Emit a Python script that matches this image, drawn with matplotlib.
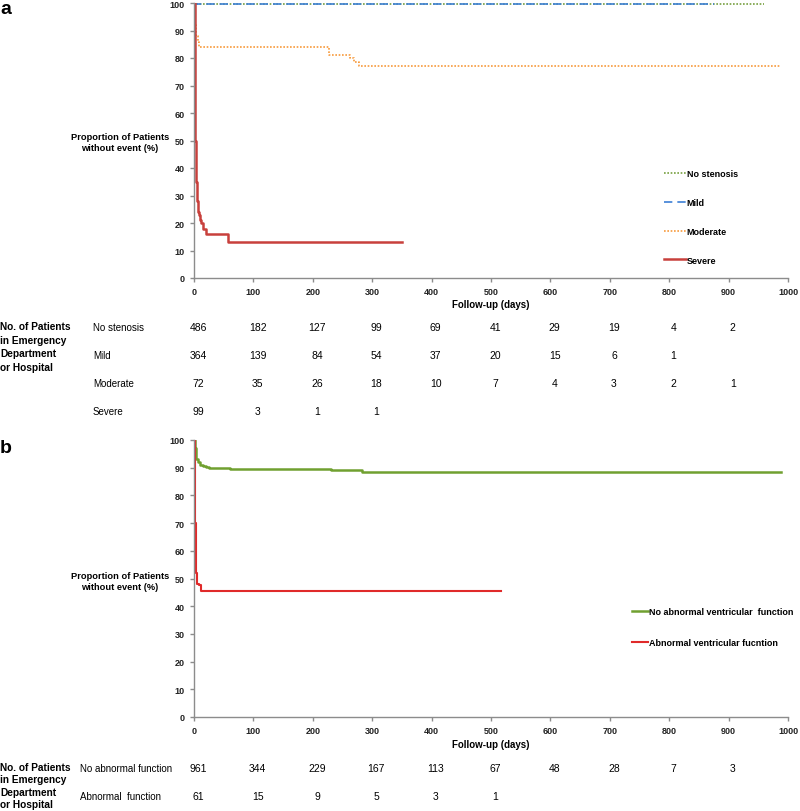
import matplotlib.pyplot as plt
import matplotlib.transforms as mtransforms

# panel a - stenosis groups (Kaplan-Meier, step curves)
days_none = [0, 2, 960]
surv_none = [100, 99.6, 99.6]
days_mild = [0, 1, 875]
surv_mild = [100, 99.6, 99.6]
days_mod = [0, 2, 4, 6, 8, 226, 228, 255, 262, 270, 278, 988]
surv_mod = [100, 92, 88, 86, 84, 84, 81, 81, 80, 78.5, 77, 77]
days_sev = [0, 1, 2, 3, 4, 5, 6, 8, 10, 12, 15, 20, 57, 58, 350]
surv_sev = [100, 80, 50, 48, 35, 28, 24, 23, 21, 20, 18, 16, 16, 13, 13]

# panel b - ventricular function
days_norm = [0, 2, 4, 6, 10, 15, 20, 25, 57, 60, 228, 230, 280, 282, 988]
surv_norm = [100, 97, 93, 92, 91, 90.6, 90.3, 90, 90, 89.6, 89.6, 89.2, 89.2, 88.6, 88.6]
days_abn = [0, 1, 2, 3, 4, 5, 8, 10, 12, 517]
surv_abn = [100, 90, 70, 60, 52, 48, 47.5, 47.5, 45.5, 45.5]

# numbers at risk
risk_days = [0, 100, 200, 300, 400, 500, 600, 700, 800, 900]
risk_a_labels = ['No stenosis', 'Mild', 'Moderate', 'Severe']
risk_a = [
    [486, 182, 127, 99, 69, 41, 29, 19, 4, 2],
    [364, 139, 84, 54, 37, 20, 15, 6, 1],
    [72, 35, 26, 18, 10, 7, 4, 3, 2, 1],
    [99, 3, 1, 1],
]
risk_b_labels = ['No abnormal function', 'Abnormal  function']
risk_b = [
    [961, 344, 229, 167, 113, 67, 48, 28, 7, 3],
    [61, 15, 9, 5, 3, 1],
]

W, H = 800, 812
FONT = ['Liberation Sans', 'DejaVu Sans']
NARROW = ['Liberation Sans Narrow', 'Liberation Sans', 'DejaVu Sans']
plt.rcParams['font.family'] = FONT

fig = plt.figure(figsize=(W / 100, H / 100), dpi=100)


def fx(px):
    return px / W


def fy(py):
    return 1 - py / H


def make_axes(top, bottom):
    ax = fig.add_axes([fx(194), fy(bottom), fx(788) - fx(194), fy(top) - fy(bottom)])
    ax.set_xlim(0, 1000)
    ax.set_ylim(0, 100)
    ax.set_xticks(range(0, 1001, 100))
    ax.set_yticks(range(0, 101, 10))
    for s in ['top', 'right']:
        ax.spines[s].set_visible(False)
    for s in ['left', 'bottom']:
        ax.spines[s].set_color('#8c8c8c')
        ax.spines[s].set_linewidth(1)
    ax.tick_params(colors='#8c8c8c', length=3, width=1, labelsize=6.5,
                   labelcolor='#222222')
    for lab in ax.get_xticklabels() + ax.get_yticklabels():
        lab.set_fontweight('bold')
    return ax


def risk_table(ax, labels, rows, y_rows, y_follow, x_label, spacing):
    fig.text(0.5 * (fx(194) + fx(788)), fy(y_follow), 'Follow-up (days)',
             ha='center', va='center', fontsize=7, fontweight='bold')
    trans = mtransforms.blended_transform_factory(ax.transData, fig.transFigure)
    for lab, row, yy in zip(labels, rows, y_rows):
        fig.text(fx(x_label), fy(yy), lab, ha='left', va='center',
                 fontsize=7, family=NARROW)
        for d, n in zip(risk_days, row):
            ax.text(d + 7, fy(yy), str(n), transform=trans, ha='center',
                    va='center', fontsize=7.5, family=NARROW)
    fig.text(0, fy(y_rows[0] - 6), 'No. of Patients\nin Emergency\nDepartment\nor Hospital',
             ha='left', va='top', fontsize=7.3, fontweight='bold', linespacing=spacing)


# ---- panel a ----
ax1 = make_axes(4, 279)
ax1.step(days_none, surv_none, where='post', color='#77a040', lw=1.2, ls=(0, (1, 1)),
         label='No stenosis')
ax1.step(days_mild, surv_mild, where='post', color='#3c7fd6', lw=1.2, ls=(0, (5, 3)),
         label='Mild')
ax1.step(days_mod, surv_mod, where='post', color='#f79a3c', lw=1.2, ls=(0, (1, 1)),
         label='Moderate')
ax1.step(days_sev, surv_sev, where='post', color='#c8403c', lw=1.8, label='Severe')
ax1.legend(loc='upper left', bbox_to_anchor=(fx(664), fy(170)),
           bbox_transform=fig.transFigure, frameon=False,
           handlelength=2.4, handletextpad=0.1, labelspacing=2.2,
           borderaxespad=0, borderpad=0, prop={'weight': 'bold', 'size': 6.5})
fig.text(fx(120), fy(143), 'Proportion of Patients\nwithout event (%)', ha='center',
         va='center', fontsize=6.7, fontweight='bold', linespacing=1.4)
fig.text(0, fy(10), 'a', ha='left', va='center', fontsize=14, fontweight='bold')
risk_table(ax1, risk_a_labels, risk_a, [328, 356, 384, 412], 305, 93, 1.45)

# ---- panel b ----
ax2 = make_axes(441, 718)
ax2.step(days_norm, surv_norm, where='post', color='#70a030', lw=1.8,
         label='No abnormal ventricular  function')
ax2.step(days_abn, surv_abn, where='post', color='#e02a2a', lw=1.5,
         label='Abnormal ventricular fucntion')
ax2.legend(loc='upper left', bbox_to_anchor=(fx(632), fy(608)),
           bbox_transform=fig.transFigure, frameon=False,
           handlelength=1.8, handletextpad=0.1, labelspacing=2.4,
           borderaxespad=0, borderpad=0, prop={'weight': 'bold', 'size': 6.5})
fig.text(fx(120), fy(582), 'Proportion of Patients\nwithout event (%)', ha='center',
         va='center', fontsize=6.7, fontweight='bold', linespacing=1.4)
fig.text(0, fy(449), 'b', ha='left', va='center', fontsize=14, fontweight='bold')
risk_table(ax2, risk_b_labels, risk_b, [769, 797], 745, 80, 1.3)

fig.savefig('out.png', dpi=100)
